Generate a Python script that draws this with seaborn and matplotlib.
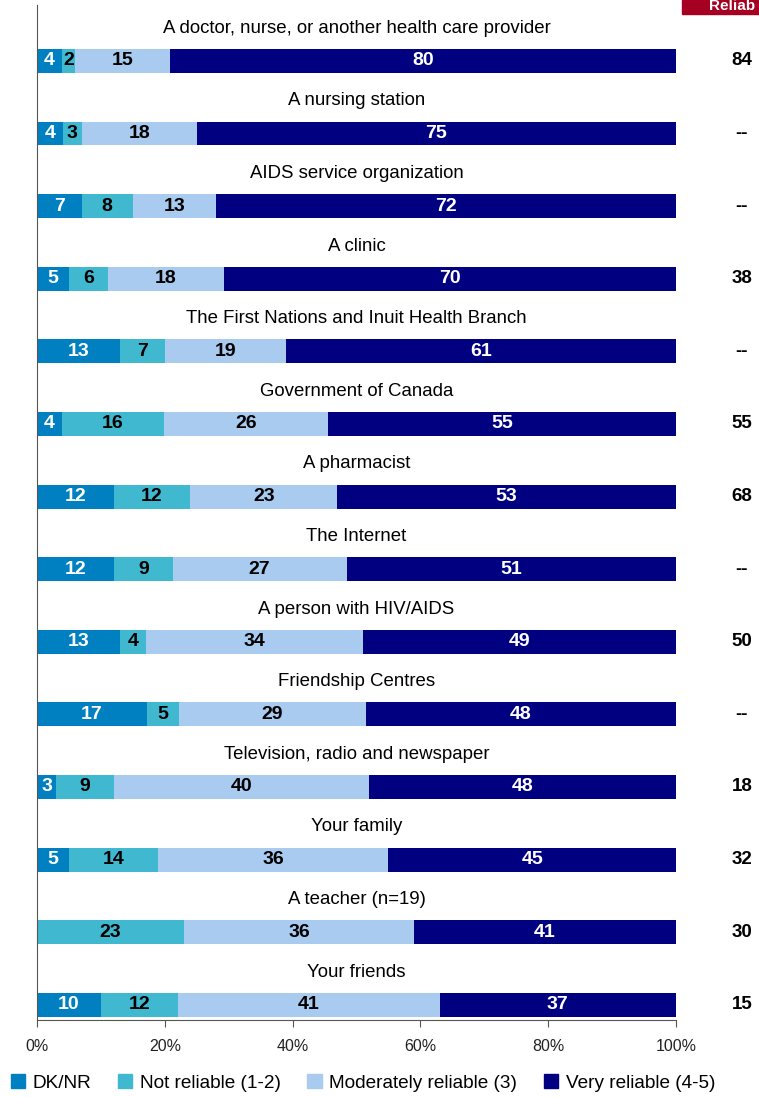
import numpy as np
import pandas as pd
import matplotlib.pyplot as plt
import seaborn as sns

# Data
sources = [
    'A doctor, nurse, or another health care provider',
    'A nursing station',
    'AIDS service organization',
    'A clinic',
    'The First Nations and Inuit Health Branch',
    'Government of Canada',
    'A pharmacist',
    'The Internet',
    'A person with HIV/AIDS',
    'Friendship Centres',
    'Television, radio and newspaper',
    'Your family',
    'A teacher (n=19)',
    'Your friends',
]
dk_nr = [4, 4, 7, 5, 13, 4, 12, 12, 13, 17, 3, 5, 0, 10]
not_reliable = [2, 3, 8, 6, 7, 16, 12, 9, 4, 5, 9, 14, 23, 12]
moderately = [15, 18, 13, 18, 19, 26, 23, 27, 34, 29, 40, 36, 36, 41]
very = [80, 75, 72, 70, 61, 55, 53, 51, 49, 48, 48, 45, 41, 37]
reliab_col = ['84', '--', '--', '38', '--', '55', '68', '--', '50', '--', '18', '32', '30', '15']

series = ['DK/NR', 'Not reliable (1-2)', 'Moderately reliable (3)', 'Very reliable (4-5)']
colors = ['#0080C0', '#40B8D0', '#A8CBEF', '#000080']
text_colors = ['white', 'black', 'black', 'white']

plt.rcParams['font.family'] = ['Liberation Sans', 'DejaVu Sans']

vals = np.array([dk_nr, not_reliable, moderately, very], dtype=float)
widths = vals / vals.sum(axis=0) * 100  # bars always fill to 100%
cum = np.cumsum(widths, axis=0)

fig = plt.figure(figsize=(7.59, 10.97), dpi=100)
ax = fig.add_axes([37 / 759, 1 - 1020 / 1097, (676 - 37) / 759, 1015 / 1097])

# draw stacked bars back to front
for i in reversed(range(4)):
    df = pd.DataFrame({'source': sources, 'value': cum[i]})
    sns.barplot(data=df, x='value', y='source', order=sources, orient='h',
                color=colors[i], width=0.33, saturation=1, ax=ax, linewidth=0)

ax.set_xlim(0, 100)
ax.set_ylim(13.21, -0.77)
ax.set_xticks([0, 20, 40, 60, 80, 100])
ax.set_xticklabels([f'{t}%' for t in range(0, 101, 20)], fontsize=11.5, color='#222222')
ax.set_yticks([])
ax.set_xlabel('')
ax.set_ylabel('')
ax.tick_params(axis='x', length=5, color='#555555', pad=9)
for s in ['top', 'right']:
    ax.spines[s].set_visible(False)
ax.spines['left'].set_color('#555555')
ax.spines['bottom'].set_color('#555555')

for j, name in enumerate(sources):
    ax.text(50, j - 0.45, name, ha='center', va='center', fontsize=13.4, color='black')
    left = 0
    for i in range(4):
        if vals[i, j] > 0:
            ax.text(left + widths[i, j] / 2, j, f'{int(vals[i, j])}', ha='center', va='center',
                    fontsize=14, fontweight='bold', color=text_colors[i])
        left += widths[i, j]
    ax.text(110.3, j, reliab_col[j], ha='center', va='center', fontsize=13.5,
            fontweight='bold', color='black', clip_on=False)

# header box in top right corner
fig.patches.append(plt.Rectangle((682 / 759, 1 - 14 / 1097), 80 / 759, 14 / 1097,
                                 transform=fig.transFigure, color='#A50021', zorder=5))
fig.text(709 / 759, 1 - 6 / 1097, 'Reliab', fontsize=11, fontweight='bold', color='white',
         ha='left', va='center', zorder=6)

handles = [plt.Rectangle((0, 0), 1, 1, color=c) for c in colors]
fig.legend(handles, series, loc='center left', bbox_to_anchor=(0.004, 1 - 1083 / 1097),
           ncol=4, frameon=False, fontsize=13.7,
           handlelength=0.75, handleheight=0.75,
           handletextpad=0.4, columnspacing=1.4, borderaxespad=0)

fig.savefig('out.png', dpi=100)
